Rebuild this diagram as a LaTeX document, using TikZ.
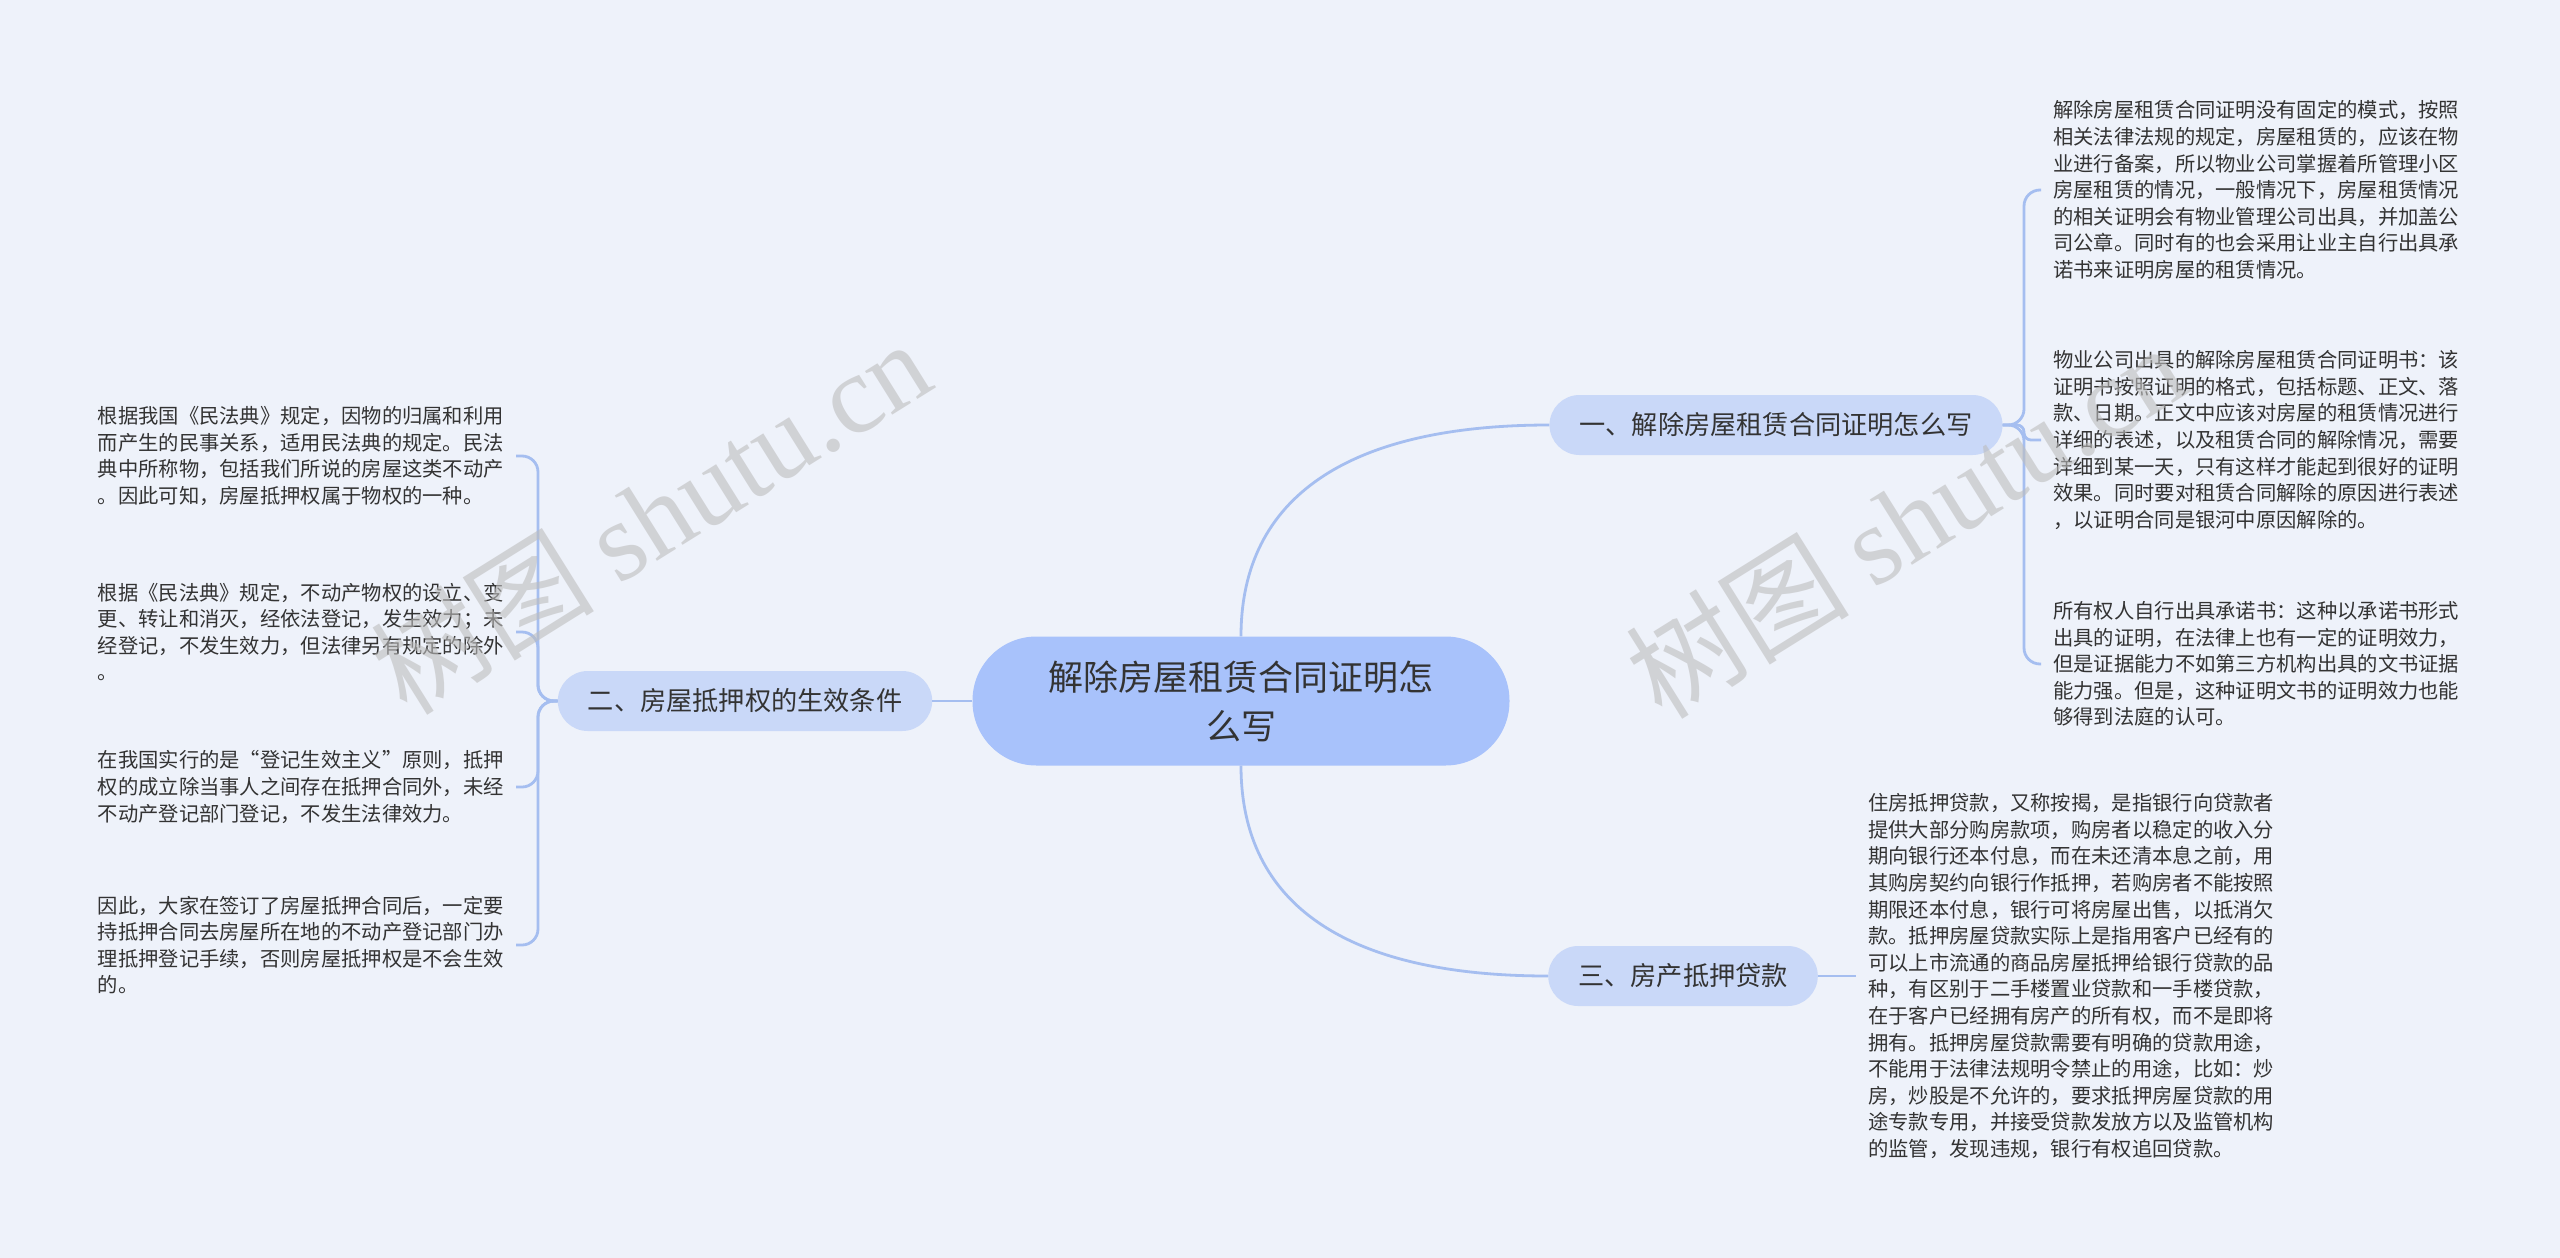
\documentclass[tikz,border=0pt]{standalone}
\usepackage{fontspec}
\setmainfont{Noto Sans CJK SC}
\newfontfamily\cjk{Noto Sans CJK SC}
\newfontfamily\wmserif{Liberation Serif}
\definecolor{bgc}{HTML}{EEF2FA}
\definecolor{rootc}{HTML}{A8C2FB}
\definecolor{branchc}{HTML}{C9D8F8}
\definecolor{linec}{HTML}{A5BEF0}
\definecolor{txtc}{HTML}{333333}
\definecolor{wmc}{HTML}{BDBDBD}
\tikzset{
  rootbox/.style={fill=rootc, rounded corners=64pt, minimum width=537pt, minimum height=129pt,
    align=center, text=txtc, font=\fontsize{35}{49}\selectfont, inner sep=0pt},
  branchbox/.style={fill=branchc, rounded corners=30pt, minimum height=60pt, inner xsep=30pt,
    inner ysep=0pt, text=txtc, font=\fontsize{26.2}{30}\selectfont},
  leafbox/.style={align=left, text=txtc, font=\fontsize{20.3}{26.6}\selectfont, inner xsep=12pt, inner ysep=4pt},
  conn/.style={draw=linec, line width=2.8pt},
  wm/.style={text=wmc, opacity=0.6, rotate=32, font=\fontsize{112}{116}\selectfont}
}
\begin{document}
\begin{tikzpicture}[x=1pt,y=-1pt]
\path[fill=bgc] (0,0) rectangle (2560,1258);
\useasboundingbox (0,0) rectangle (2560,1258);

% root and branches
\node[rootbox] (c) at (1241,701) {解除房屋租赁合同证明怎\\么写};
\node[branchbox] (b1) at (1776,425) {一、解除房屋租赁合同证明怎么写};
\node[branchbox] (b2) at (745,701) {二、房屋抵押权的生效条件};
\node[branchbox] (b3) at (1683,976) {三、房产抵押贷款};

% right leaves of branch 1
\node[leafbox, anchor=west] (l1a) at (2041,190) {解除房屋租赁合同证明没有固定的模式，按照\\相关法律法规的规定，房屋租赁的，应该在物\\业进行备案，所以物业公司掌握着所管理小区\\房屋租赁的情况，一般情况下，房屋租赁情况\\的相关证明会有物业管理公司出具，并加盖公\\司公章。同时有的也会采用让业主自行出具承\\诺书来证明房屋的租赁情况。};
\node[leafbox, anchor=west] (l1b) at (2041,440) {物业公司出具的解除房屋租赁合同证明书：该\\证明书按照证明的格式，包括标题、正文、落\\款、日期。正文中应该对房屋的租赁情况进行\\详细的表述，以及租赁合同的解除情况，需要\\详细到某一天，只有这样才能起到很好的证明\\效果。同时要对租赁合同解除的原因进行表述\\，以证明合同是银河中原因解除的。};
\node[leafbox, anchor=west] (l1c) at (2041,664) {所有权人自行出具承诺书：这种以承诺书形式\\出具的证明，在法律上也有一定的证明效力，\\但是证据能力不如第三方机构出具的文书证据\\能力强。但是，这种证明文书的证明效力也能\\够得到法庭的认可。};

% left leaves of branch 2
\node[leafbox, anchor=east] (l2a) at (516,456) {根据我国《民法典》规定，因物的归属和利用\\而产生的民事关系，适用民法典的规定。民法\\典中所称物，包括我们所说的房屋这类不动产\\。因此可知，房屋抵押权属于物权的一种。};
\node[leafbox, anchor=east] (l2b) at (516,632) {根据《民法典》规定，不动产物权的设立、变\\更、转让和消灭，经依法登记，发生效力；未\\经登记，不发生效力，但法律另有规定的除外\\。};
\node[leafbox, anchor=east] (l2c) at (516,787) {在我国实行的是“登记生效主义”原则，抵押\\权的成立除当事人之间存在抵押合同外，未经\\不动产登记部门登记，不发生法律效力。};
\node[leafbox, anchor=east] (l2d) at (516,945) {因此，大家在签订了房屋抵押合同后，一定要\\持抵押合同去房屋所在地的不动产登记部门办\\理抵押登记手续，否则房屋抵押权是不会生效\\的。};

% leaf of branch 3
\node[leafbox, anchor=west] (l3) at (1856,976) {住房抵押贷款，又称按揭，是指银行向贷款者\\提供大部分购房款项，购房者以稳定的收入分\\期向银行还本付息，而在未还清本息之前，用\\其购房契约向银行作抵押，若购房者不能按照\\期限还本付息，银行可将房屋出售，以抵消欠\\款。抵押房屋贷款实际上是指用客户已经有的\\可以上市流通的商品房屋抵押给银行贷款的品\\种，有区别于二手楼置业贷款和一手楼贷款，\\在于客户已经拥有房产的所有权，而不是即将\\拥有。抵押房屋贷款需要有明确的贷款用途，\\不能用于法律法规明令禁止的用途，比如：炒\\房，炒股是不允许的，要求抵押房屋贷款的用\\途专款专用，并接受贷款发放方以及监管机构\\的监管，发现违规，银行有权追回贷款。};

% junctions
\coordinate (j1) at (2024,425);
\coordinate (j2) at (538,701);

% root connectors
\draw[conn] (c.north) .. controls +(0,-140) and +(-200,0) .. (b1.west);
\draw[conn] (c.south) .. controls +(0,140) and +(-200,0) .. (b3.west);
\draw[conn] (c.west) -- (b2.east);

% branch 1 leaves
\draw[conn, rounded corners=16pt] (b1.east) -- (j1) |- (l1a.west);
\draw[conn, rounded corners=7pt] (b1.east) -- (j1) |- (l1b.west);
\draw[conn, rounded corners=16pt] (b1.east) -- (j1) |- (l1c.west);

% branch 2 leaves
\draw[conn, rounded corners=16pt] (b2.west) -- (j2) |- (l2a.east);
\draw[conn, rounded corners=16pt] (b2.west) -- (j2) |- (l2b.east);
\draw[conn, rounded corners=16pt] (b2.west) -- (j2) |- (l2c.east);
\draw[conn, rounded corners=16pt] (b2.west) -- (j2) |- (l2d.east);

% branch 3 leaf
\draw[conn] (b3.east) -- (l3.west);

% watermarks
\node[wm] (wm1) at (650,516) {\cjk 树图 \wmserif shutu.cn};
\node[wm] (wm2) at (1905,520) {\cjk 树图 \wmserif shutu.cn};
\end{tikzpicture}
\end{document}
